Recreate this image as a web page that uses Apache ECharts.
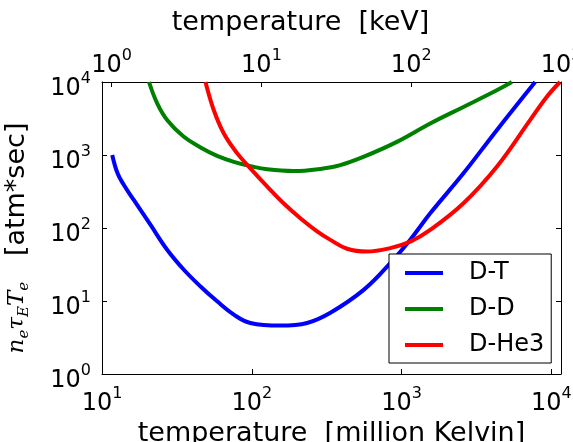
<!DOCTYPE html>
<html>
<head>
<meta charset="utf-8">
<script src="https://cdn.jsdelivr.net/npm/echarts@6/dist/echarts.min.js"></script>
<style>html,body{margin:0;padding:0;background:#fff}#c{width:573px;height:442px}</style>
</head>
<body>
<div id="c"></div>
<script>
// temperatures in million Kelvin, values in atm*sec
var dtT  = [11.7, 12.7, 14.0, 16.3, 21.1, 27.3, 35.2, 45.5, 58.7, 75.9, 97.9, 155, 234, 335, 561, 841, 1143, 1554, 2590, 4324, 7800];
var dtV  = [1000, 561, 388, 242, 110, 50, 26.8, 15.8, 9.9, 6.5, 5.0, 4.6, 5.0, 6.9, 14.3, 33, 69, 159, 561, 2190, 10000];
var ddT  = [20.6, 23.4, 27.3, 35.2, 45.5, 58.7, 75.9, 97.9, 127, 190, 287, 390, 561, 931, 1554, 2590, 4324, 5450];
var ddV  = [10000, 5070, 3000, 1774, 1270, 975, 807, 705, 636, 602, 645, 728, 950, 1514, 2700, 4550, 7700, 10000];
var dheT = [49.1, 55.8, 65.1, 80, 97.9, 127, 163, 211, 273, 335, 433, 588, 841, 1143, 1554, 2590, 4324, 7210, 9310, 11430];
var dheV = [10000, 4100, 1972, 1052, 656, 368, 218, 136, 90, 68.8, 52, 47.6, 53, 65, 94, 218, 690, 3000, 6240, 10000];
var seriesNames = ['D-T', 'D-D', 'D-He3'];
var seriesColors = ['#0000ff', '#008000', '#ff0000'];
var MK_PER_KEV = 11.6045;
var mkMin = 10, keVMax = 1000;

function pairs(xs, ys) { return xs.map(function (x, i) { return [x, ys[i]]; }); }
var FONT = 'DejaVu Sans';
function powLabel(v) {
  var l = Math.log10(v), e = Math.round(l);
  if (Math.abs(l - e) > 1e-6) return '';
  return '{b|10}{s|' + e + '}';
}
var tickRich = {
  b: { fontSize: 24, fontFamily: FONT, color: '#000', lineHeight: 30, verticalAlign: 'bottom' },
  s: { fontSize: 16, fontFamily: FONT, color: '#000', lineHeight: 16, verticalAlign: 'top' }
};
var axLine = { show: true, lineStyle: { color: '#000', width: 1 } };
var axTick = { show: true, inside: true, length: 5, lineStyle: { color: '#000', width: 1 } };

var chart = echarts.init(document.getElementById('c'));
chart.setOption({
  animation: false,
  backgroundColor: '#fff',
  grid: { left: 102, right: 12, top: 82, bottom: 68, containLabel: false, outerBoundsMode: 'none' },
  xAxis: [
    { type: 'log', position: 'bottom', min: mkMin, max: keVMax * MK_PER_KEV,
      axisLine: axLine, axisTick: axTick, splitLine: { show: false },
      axisLabel: { formatter: powLabel, rich: tickRich, margin: 12 },
      name: 'temperature  [million Kelvin]', nameLocation: 'middle', nameGap: 34,
      nameTextStyle: { fontSize: 27, fontFamily: FONT, color: '#000' } },
    { type: 'log', position: 'top', min: mkMin / MK_PER_KEV, max: keVMax,
      axisLine: axLine, axisTick: axTick, splitLine: { show: false },
      axisLabel: { formatter: powLabel, rich: tickRich, margin: 4 },
      name: 'temperature  [keV]', nameLocation: 'middle', nameGap: 46,
      nameTextStyle: { fontSize: 27, fontFamily: FONT, color: '#000', padding: [0, 62, 0, 0] } }
  ],
  yAxis: [
    { type: 'log', position: 'left', min: 1, max: 10000,
      axisLine: axLine, axisTick: axTick, splitLine: { show: false },
      axisLabel: { formatter: powLabel, rich: tickRich, margin: 11, padding: [8, 0, 0, 0] },
      name: '{m|n}{ms|e}{m|τ}{ms|E}{m|T}{ms|e}{t|   [atm*sec]}', nameLocation: 'middle', nameRotate: 90, nameGap: 70,
      nameTextStyle: { padding: [0, 20, 0, 0], rich: {
        m: { fontFamily: 'DejaVu Serif', fontStyle: 'italic', fontSize: 23, color: '#000', lineHeight: 30, verticalAlign: 'middle' },
        ms: { fontFamily: 'DejaVu Serif', fontStyle: 'italic', fontSize: 15, color: '#000', lineHeight: 15, verticalAlign: 'bottom' },
        t: { fontFamily: FONT, fontSize: 27, color: '#000', lineHeight: 30, verticalAlign: 'middle' }
      } } },
    { type: 'log', position: 'right', min: 1, max: 10000,
      axisLine: axLine, axisTick: axTick, splitLine: { show: false }, axisLabel: { show: false } }
  ],
  legend: {
    orient: 'vertical', left: 389, top: 254,
    backgroundColor: '#fff', borderColor: '#000', borderWidth: 1, borderRadius: 0,
    padding: [7, 7, 6, 16], itemGap: 12, itemWidth: 38, itemHeight: 4, icon: 'rect',
    textStyle: { fontSize: 24, fontFamily: FONT, color: '#000', lineHeight: 24, padding: [0, 0, 0, 21] },
    data: seriesNames
  },
  series: [
    { name: seriesNames[0], type: 'line', data: pairs(dtT, dtV) },
    { name: seriesNames[1], type: 'line', data: pairs(ddT, ddV) },
    { name: seriesNames[2], type: 'line', data: pairs(dheT, dheV) }
  ].map(function (s, i) {
    s.xAxisIndex = 0; s.yAxisIndex = 0; s.showSymbol = false; s.smooth = 0.4;
    s.color = seriesColors[i];
    s.lineStyle = { width: 4, color: seriesColors[i] };
    return s;
  })
});
</script>
</body>
</html>
